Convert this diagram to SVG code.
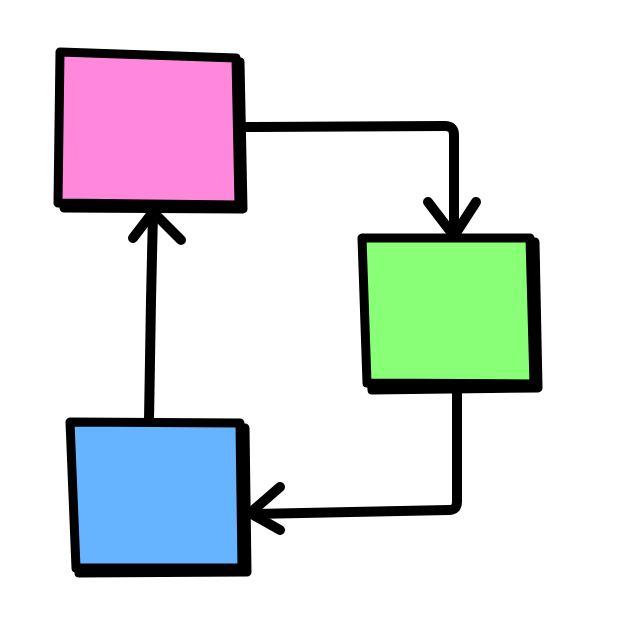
<svg xmlns="http://www.w3.org/2000/svg" width="626" height="626" viewBox="0 0 626 626">
<style>
.box{stroke:#000;stroke-width:9;stroke-linejoin:round;stroke-linecap:round}
.shadow{fill:#000;stroke:#000;stroke-width:9;stroke-linejoin:round}
.edge{fill:none;stroke:#000;stroke-width:10;stroke-linejoin:round;stroke-linecap:round}
</style>
<rect width="626" height="626" fill="#fff"/>
<g id="connectors">
<path class="edge" d="M242 127 L445 126 Q454 126 454 135 L454 236"/>
<path class="edge" d="M428 202 L454 236 L476 202"/>
<path class="edge" d="M457 393 L457 502 Q457 510 449 510 L248 514"/>
<path class="edge" d="M280 487 L250 513 L280 530"/>
<path class="edge" d="M149 420 L151 300 L153 212"/>
<path class="edge" d="M133 238 L153 212 L181 240"/>
</g>
<g id="pink">
<path class="shadow" d="M63 56 L240 62 L243 209 L64 208 Z"/>
<path class="box" fill="#ff88dd" d="M60 52 L236 58 L239 205 L58 203 Z"/>
</g>
<g id="green">
<path class="shadow" d="M365 242 L535 242 L538 388 L372 390 Z"/>
<path class="box" fill="#88ff77" d="M362 238 L530 238 L534 384 L367 383 Z"/>
</g>
<g id="blue">
<path class="shadow" d="M73 426 L245 428 L247 572 L79 573 Z"/>
<path class="box" fill="#66b3ff" d="M70 422 L240 423 L242 568 L76 568 Z"/>
</g>
</svg>
